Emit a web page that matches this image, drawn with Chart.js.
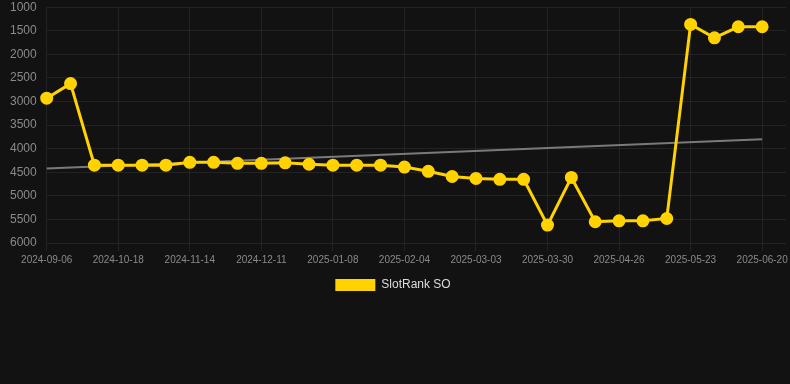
<!DOCTYPE html>
<html>
<head>
<meta charset="utf-8">
<script src="https://cdn.jsdelivr.net/npm/chart.js@4/dist/chart.umd.min.js"></script>
<style>
  html, body { margin: 0; padding: 0; background: #121212; overflow: hidden; width: 790px; height: 384px; }
  #wrap { position: relative; width: 798px; height: 311px; margin-top: -10px; }
</style>
</head>
<body>
<div id="wrap"><canvas id="c"></canvas></div>
<script>
const dates = [
  "2024-09-06","2024-09-20","2024-10-04","2024-10-18","2024-10-27","2024-11-05",
  "2024-11-14","2024-11-23","2024-12-02","2024-12-11","2024-12-20","2024-12-29",
  "2025-01-08","2025-01-17","2025-01-26","2025-02-04","2025-02-13","2025-02-22",
  "2025-03-03","2025-03-12","2025-03-21","2025-03-30","2025-04-08","2025-04-17",
  "2025-04-26","2025-05-05","2025-05-14","2025-05-23","2025-06-01","2025-06-10",
  "2025-06-20","2025-06-29"
];
const rankValues = [
  2930, 2620, 4350, 4350, 4350, 4350,
  4290, 4290, 4310, 4310, 4300, 4330,
  4350, 4350, 4350, 4390, 4480, 4590,
  4630, 4650, 4650, 5620, 4610, 5550,
  5530, 5530, 5480, 1365, 1650, 1415,
  1415, null
];
const trendStart = 4420;
const trendEnd = 3800;
const trendValues = dates.map((d, i) => i === 0 ? trendStart : (i === rankValues.length - 2 ? trendEnd : null));
const seriesName = "SlotRank SO";

const gridColor = "#232323";
const tickColor = "#8a8a8a";

new Chart(document.getElementById("c"), {
  type: "line",
  data: {
    labels: dates,
    datasets: [
      {
        label: seriesName,
        data: rankValues,
        borderColor: "#FFD200",
        backgroundColor: "#FFD200",
        borderWidth: 3,
        pointRadius: 5,
        pointHoverRadius: 5,
        pointBackgroundColor: "#FFD200",
        pointBorderColor: "#FFD200",
        tension: 0,
        order: 1
      },
      {
        label: "trend",
        data: trendValues,
        borderColor: "#7a7a7a",
        borderWidth: 2,
        pointRadius: 0,
        spanGaps: true,
        tension: 0,
        order: 2
      }
    ]
  },
  options: {
    responsive: true,
    maintainAspectRatio: false,
    animation: false,
    layout: { padding: { left: 0, right: 12, top: 0, bottom: 0 } },
    plugins: {
      legend: {
        position: "bottom",
        labels: {
          color: "#dddddd",
          font: { family: "Liberation Sans, Arial, sans-serif", size: 12 },
          boxWidth: 40,
          boxHeight: 12,
          filter: (item) => item.text === seriesName,
          generateLabels: (chart) => Chart.defaults.plugins.legend.labels.generateLabels(chart).map(l => Object.assign(l, { lineWidth: 0 }))
        }
      },
      tooltip: { enabled: false }
    },
    scales: {
      x: {
        offset: false,
        grid: {
          color: (ctx) => (ctx.index % 3 === 0 ? gridColor : "rgba(0,0,0,0)"),
          tickLength: 8
        },
        border: { display: false },
        ticks: {
          autoSkip: false,
          maxRotation: 0,
          color: tickColor,
          font: { family: "Liberation Sans, Arial, sans-serif", size: 10 },
          callback: function (val, idx) { return idx % 3 === 0 ? this.getLabelForValue(val) : ""; }
        }
      },
      y: {
        reverse: true,
        min: 1000,
        max: 6000,
        grid: { color: gridColor, drawTicks: false },
        border: { display: false },
        ticks: {
          stepSize: 500,
          padding: 10,
          color: tickColor,
          font: { family: "Liberation Sans, Arial, sans-serif", size: 12 },
          callback: (v) => String(v)
        }
      }
    }
  }
});
</script>
</body>
</html>
